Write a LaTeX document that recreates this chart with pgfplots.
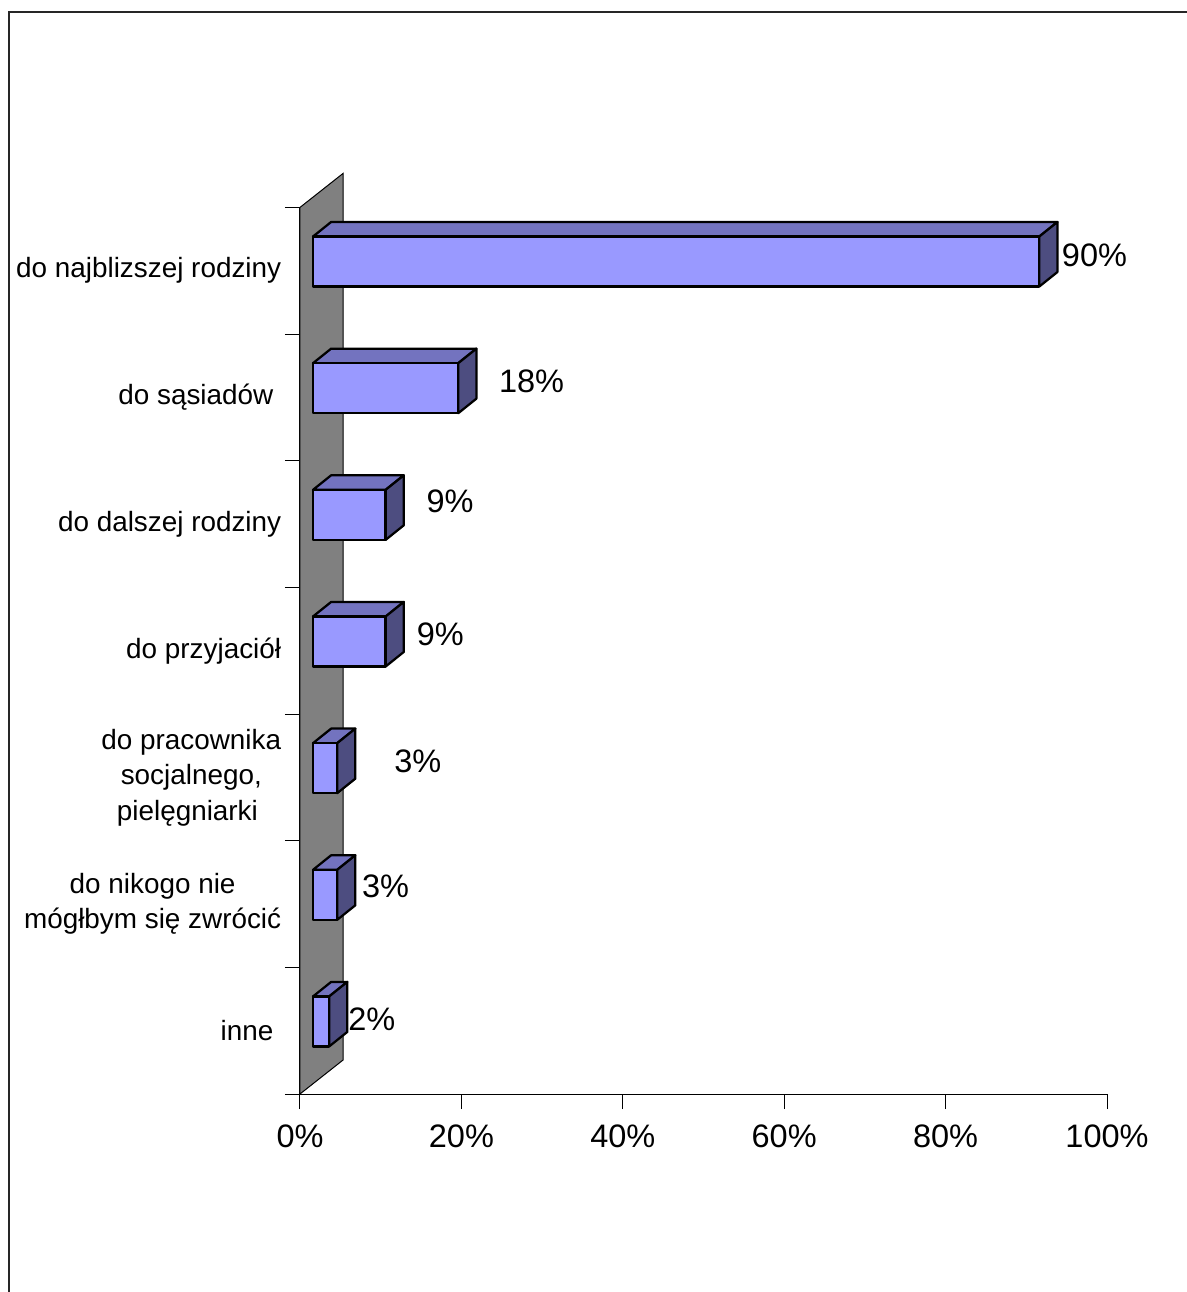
\documentclass[border=0pt]{standalone}
\usepackage{pgfplots}
\pgfplotsset{compat=1.18}
\usepackage{fontspec}
\setmainfont{Liberation Sans}
\definecolor{barfront}{RGB}{153,153,255}
\definecolor{bartop}{RGB}{115,115,191}
\definecolor{barside}{RGB}{77,77,128}
\definecolor{wall}{RGB}{128,128,128}
\begin{document}
\begin{tikzpicture}
\path[use as bounding box] (-120pt,-79.2pt) rectangle (354.4pt,437.6pt);
\draw[line width=0.8pt, black!85] (-116.4pt,-80pt) -- (-116.4pt,432.8pt) -- (355pt,432.8pt);
\begin{axis}[
  scale only axis, width=322.8pt, height=354.64pt,
  xmin=0, xmax=100, ymin=0, ymax=7,
  axis x line*=bottom, axis y line*=left,
  axis line style={black, line width=0.4pt, -},
  xtick={0,20,40,60,80,100},
  xticklabels={0\%,20\%,40\%,60\%,80\%,100\%},
  xticklabel style={font=\fontsize{13}{15}\selectfont, yshift=-2.6pt},
  ytick={0,1,2,3,4,5,6,7}, yticklabels={},
  tick align=outside, major tick length=6pt,
  tick style={black, line width=0.4pt},
  extra y ticks={0.5,1.5,2.5,3.5,4.5,5.5,6.5},
  extra y tick labels={inne\kern.28em,
    {do nikogo nie\\mógłbym się zwrócić},
    {do pracownika\\socjalnego,\\pielęgniarki\kern.28em},
    do przyjaciół,
    do dalszej rodziny,
    do sąsiadów\kern.28em,
    do najblizszej rodziny},
  extra y tick style={major tick length=0pt,
    yticklabel style={align=center, font=\fontsize{11.15}{14.2}\selectfont, anchor=east, xshift=-4pt}},
  clip=false,
]
% back wall
\addplot[fill=wall, draw=black, line width=0.4pt] coordinates {(0,0) (5.33,0.268) (5.33,7.268) (0,7)} --cycle;
% 3D bars
\foreach \i/\v in {6/90,5/18,4/9,3/9,2/3,1/3,0/2}{
  \pgfmathsetmacro\xa{1.61}
  \pgfmathsetmacro\xb{1.61+\v}
  \pgfmathsetmacro\xc{1.61+\v+2.25}
  \pgfmathsetmacro\xd{1.61+2.25}
  \pgfmathsetmacro\ya{\i+0.375}
  \pgfmathsetmacro\yb{\i+0.77}
  \pgfmathsetmacro\yc{\i+0.49}
  \pgfmathsetmacro\yd{\i+0.885}
  \edef\temp{%
    \noexpand\addplot[fill=bartop, draw=black, line width=0.9pt, line join=round] coordinates {(\xa,\yb) (\xb,\yb) (\xc,\yd) (\xd,\yd)} --cycle;
    \noexpand\addplot[fill=barside, draw=black, line width=0.9pt, line join=round] coordinates {(\xb,\ya) (\xc,\yc) (\xc,\yd) (\xb,\yb)} --cycle;
    \noexpand\addplot[fill=barfront, draw=black, line width=0.9pt, line join=round] coordinates {(\xa,\ya) (\xb,\ya) (\xb,\yb) (\xa,\yb)} --cycle;
  }
  \temp
}
% data labels
\begin{scope}[every node/.style={font=\fontsize{13}{15}\selectfont}]
\node at (axis cs:98.45,6.62) {90\%};
\node at (axis cs:28.7,5.63) {18\%};
\node at (axis cs:18.6,4.68) {9\%};
\node at (axis cs:17.4,3.63) {9\%};
\node at (axis cs:14.6,2.63) {3\%};
\node at (axis cs:10.6,1.64) {3\%};
\node at (axis cs:8.9,0.59) {2\%};
\end{scope}
\end{axis}
\end{tikzpicture}
\end{document}
